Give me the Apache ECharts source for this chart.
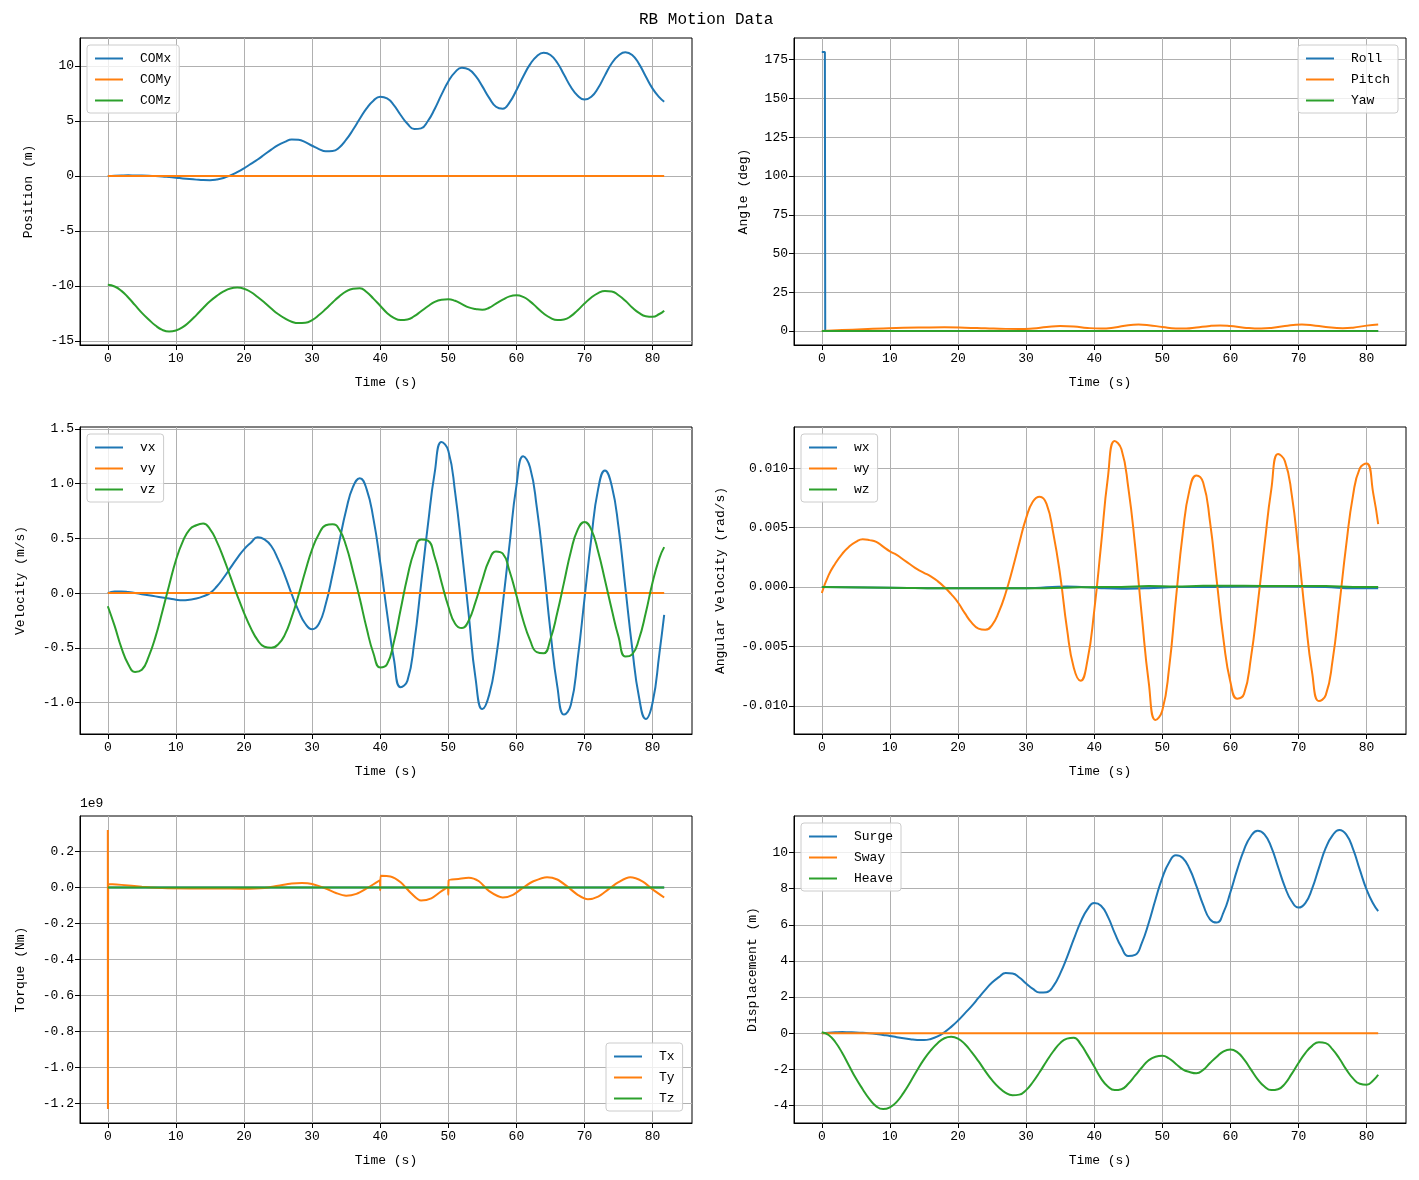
<!DOCTYPE html>
<html lang="en">
<head>
  <meta charset="UTF-8">
  <title>RB Motion Data</title>
  <script src="https://cdn.jsdelivr.net/npm/echarts@6/dist/echarts.min.js"></script>
  <style>
    html, body { margin: 0; padding: 0; background: #fff; }
  </style>
</head>
<body>
<div id="main" style="width:1419px;height:1180px;"></div>
<script>
  // shared time grid (s)
  var tSec = [0, 1, 2, 3, 4, 5, 6, 7, 8, 9,
    10, 11, 12, 13, 14, 15, 16, 17, 18, 19,
    20, 21, 22, 23, 24, 25, 26, 27, 28, 29,
    30, 31, 32, 33, 34, 35, 36, 37, 38, 39,
    40, 41, 42, 43, 44, 45, 46, 47, 48, 49,
    50, 51, 52, 53, 54, 55, 56, 57, 58, 59,
    60, 61, 62, 63, 64, 65, 66, 67, 68, 69,
    70, 71, 72, 73, 74, 75, 76, 77, 78, 79,
    80, 81, 81.7];

  var comX = [0.0, 0.03, 0.05, 0.06, 0.05, 0.04, 0.02, -0.01, -0.05, -0.1,
    -0.15, -0.22, -0.28, -0.33, -0.37, -0.38, -0.32, -0.18, 0.05, 0.35,
    0.7, 1.1, 1.5, 1.95, 2.4, 2.8, 3.1, 3.33, 3.3, 3.08,
    2.75, 2.45, 2.25, 2.27, 2.6, 3.3, 4.2, 5.2, 6.15, 6.85,
    7.2, 7.05, 6.45, 5.55, 4.75, 4.27, 4.33, 5.0, 6.1, 7.4,
    8.6, 9.45, 9.85, 9.7, 9.1, 8.15, 7.1, 6.3, 6.12, 6.7,
    7.8, 9.05, 10.15, 10.9, 11.2, 11.0, 10.3, 9.2, 8.1, 7.3,
    6.95, 7.2, 8.0, 9.15, 10.25, 10.95, 11.25, 11.0, 10.2, 9.05,
    7.95, 7.15, 6.75];

  var comZ = [-9.9, -10.05, -10.45, -11.05, -11.75, -12.45, -13.05, -13.6, -14.0, -14.15,
    -14.05, -13.75, -13.25, -12.65, -12.0, -11.4, -10.9, -10.5, -10.23, -10.15,
    -10.25, -10.55, -11.0, -11.5, -12.05, -12.55, -12.95, -13.25, -13.38, -13.35,
    -13.1, -12.65, -12.1, -11.5, -10.95, -10.5, -10.25, -10.2, -10.55, -11.15,
    -11.8, -12.45, -12.9, -13.1, -13.05, -12.75, -12.3, -11.85, -11.45, -11.25,
    -11.2, -11.35, -11.65, -11.95, -12.1, -12.17, -11.98, -11.6, -11.25, -10.95,
    -10.85, -11.0, -11.4, -11.95, -12.5, -12.9, -13.1, -13.05, -12.75, -12.2,
    -11.6, -11.05, -10.65, -10.45, -10.5, -10.85, -11.35, -11.95, -12.45, -12.75,
    -12.8, -12.55, -12.25];

  var surge = [0.0, 0.03, 0.05, 0.06, 0.05, 0.04, 0.02, -0.01, -0.05, -0.1,
    -0.15, -0.22, -0.28, -0.33, -0.37, -0.38, -0.32, -0.18, 0.05, 0.35,
    0.7, 1.1, 1.5, 1.95, 2.4, 2.8, 3.1, 3.33, 3.3, 3.08,
    2.75, 2.45, 2.25, 2.27, 2.6, 3.3, 4.2, 5.2, 6.15, 6.85,
    7.2, 7.05, 6.45, 5.55, 4.75, 4.27, 4.33, 5.0, 6.1, 7.4,
    8.6, 9.45, 9.85, 9.7, 9.1, 8.15, 7.1, 6.3, 6.12, 6.7,
    7.8, 9.05, 10.15, 10.9, 11.2, 11.0, 10.3, 9.2, 8.1, 7.3,
    6.95, 7.2, 8.0, 9.15, 10.25, 10.95, 11.25, 11.0, 10.2, 9.05,
    7.95, 7.15, 6.75];

  var heave = [0.05, -0.1, -0.5, -1.1, -1.8, -2.5, -3.1, -3.65, -4.05, -4.2,
    -4.1, -3.8, -3.3, -2.7, -2.05, -1.45, -0.95, -0.55, -0.28, -0.2,
    -0.3, -0.6, -1.05, -1.55, -2.1, -2.6, -3.0, -3.3, -3.43, -3.4,
    -3.15, -2.7, -2.15, -1.55, -1.0, -0.55, -0.3, -0.25, -0.6, -1.2,
    -1.85, -2.5, -2.95, -3.15, -3.1, -2.8, -2.35, -1.9, -1.5, -1.3,
    -1.25, -1.4, -1.7, -2.0, -2.15, -2.22, -2.03, -1.65, -1.3, -1.0,
    -0.9, -1.05, -1.45, -2.0, -2.55, -2.95, -3.15, -3.1, -2.8, -2.25,
    -1.65, -1.1, -0.7, -0.5, -0.55, -0.9, -1.4, -2.0, -2.5, -2.8,
    -2.85, -2.6, -2.3];

  var vx = [0.0, 0.015, 0.015, 0.01, 0.0, -0.01, -0.02, -0.03, -0.04, -0.05,
    -0.06, -0.065, -0.06, -0.05, -0.03, 0.0, 0.06, 0.14, 0.23, 0.32,
    0.4, 0.46, 0.51, 0.49, 0.43, 0.31, 0.16, -0.01, -0.16, -0.28,
    -0.33, -0.28, -0.1, 0.17, 0.47, 0.76, 0.97, 1.05, 0.95, 0.68,
    0.28, -0.18, -0.6, -0.86, -0.8, -0.45, 0.08, 0.62, 1.1, 1.38,
    1.3, 0.92, 0.38, -0.2, -0.78, -1.06, -0.93, -0.6, -0.1, 0.45,
    0.98, 1.25, 1.15, 0.78, 0.25, -0.35, -0.85, -1.11, -1.02, -0.6,
    -0.05, 0.5, 0.95, 1.12, 0.98, 0.6, 0.05, -0.5, -0.95, -1.15,
    -1.0, -0.55, -0.2];

  var vz = [-0.12, -0.3, -0.5, -0.65, -0.72, -0.7, -0.58, -0.4, -0.17, 0.07,
    0.3, 0.47, 0.58, 0.62, 0.635, 0.585, 0.47, 0.32, 0.15, -0.02,
    -0.18, -0.32, -0.43, -0.49, -0.5, -0.47, -0.38, -0.22, -0.02, 0.2,
    0.4, 0.54, 0.62, 0.63, 0.58, 0.43, 0.2, -0.05, -0.32, -0.55,
    -0.68, -0.65, -0.45, -0.15, 0.15, 0.38, 0.49, 0.48, 0.33, 0.1,
    -0.12, -0.28, -0.32, -0.25, -0.08, 0.12, 0.3, 0.38, 0.36, 0.2,
    -0.02, -0.25, -0.43, -0.54, -0.55, -0.42, -0.18, 0.1, 0.38, 0.58,
    0.65, 0.58, 0.38, 0.12, -0.15, -0.4, -0.58, -0.56, -0.42, -0.18,
    0.1, 0.32, 0.42];

  var wy = [-0.0005, 0.001, 0.002, 0.0028, 0.0034, 0.0038, 0.00402, 0.00395, 0.0038, 0.0034,
    0.003, 0.0027, 0.0023, 0.0019, 0.0015, 0.0012, 0.0009, 0.0005, 0.0, -0.0006,
    -0.0013, -0.0022, -0.003, -0.0035, -0.0036, -0.0032, -0.0021, -0.0005, 0.0015, 0.0037,
    0.0058, 0.0072, 0.0076, 0.007, 0.0045, 0.001, -0.0035, -0.0068, -0.0079, -0.0062,
    -0.002, 0.0035, 0.0092, 0.0123, 0.0116, 0.0084, 0.0035, -0.0025, -0.008, -0.0112,
    -0.0104, -0.0068, -0.001, 0.0045, 0.0082, 0.0094, 0.0088, 0.0055, 0.0005, -0.0045,
    -0.008, -0.0094, -0.009, -0.006, -0.0015, 0.0035, 0.0082, 0.0112, 0.0106, 0.0078,
    0.003, -0.0025, -0.0072, -0.0096, -0.0091, -0.0062, -0.0015, 0.0035, 0.0077, 0.01,
    0.0104, 0.0078, 0.0053];

  // small angular velocities
  var tW = [0, 10, 20, 30, 36, 41, 44, 48, 52, 56, 62, 68, 74, 78, 81.7];
  var wx = [0, -0.00005, -0.0001, -0.0001, 0.00005, -0.0001, -0.00015, -0.0001, 0, 0, 0.00005, 0.00005, 0, -0.0001, -0.0001];
  var wz = [0, -0.00005, -0.0001, -0.0001, -0.00005, 0, 0, 0.00008, 0.00005, 0.0001, 0.0001, 0.00008, 0.00008, 0, 0];

  // attitude (deg)
  var tRoll = [0, 0.45, 0.5, 81.7];
  var roll = [180, 180, 0, 0];
  var tPitch = [0, 3, 6, 9, 12, 15, 18, 21, 24, 27,
    29, 31, 33, 35, 37, 39, 41, 43, 45, 46.5,
    48, 50, 52, 53.5, 55, 57, 58.5, 60, 62, 64.5,
    66, 68, 70.5, 72, 74, 76.5, 78, 80, 81.7];
  var pitch = [0, 0.6, 1.2, 1.7, 2.1, 2.3, 2.4, 2.2, 1.8, 1.4,
    1.3, 1.7, 2.6, 3.3, 3.0, 2.0, 1.6, 2.3, 3.8, 4.2,
    3.8, 2.6, 1.6, 1.6, 2.3, 3.3, 3.6, 3.2, 2.2, 1.6,
    2.0, 3.3, 4.2, 3.8, 2.6, 1.8, 2.2, 3.5, 4.2];

  // torque, in units of 1e9 Nm
  var tTy = [0, 0.02, 0.05, 2, 5, 8, 12, 16, 20, 23,
    25, 27, 28.5, 30, 32, 33.5, 35, 36.5, 38, 39.5,
    39.95, 40, 40.05, 41.5, 43, 44.5, 46, 47.5, 49, 49.95,
    50, 50.05, 51.5, 53, 54.5, 56, 58, 59.5, 61, 62.5,
    64.5, 66, 67.5, 69, 70.5, 72, 73.5, 75, 76.7, 78.5,
    80, 81.7];
  var ty = [0.32, -1.23, 0.02, 0.015, 0.005, -0.003, -0.005, -0.005, -0.006, -0.002,
    0.01, 0.022, 0.025, 0.02, -0.005, -0.03, -0.045, -0.035, -0.005, 0.03,
    0.04, -0.015, 0.065, 0.062, 0.03, -0.03, -0.072, -0.06, -0.02, 0.0,
    -0.04, 0.04, 0.048, 0.055, 0.035, -0.02, -0.055, -0.04, 0.0, 0.035,
    0.058, 0.045, 0.005, -0.04, -0.065, -0.05, -0.01, 0.03, 0.057, 0.035,
    -0.01, -0.055];

  // flat series
  var tFlat = [0, 81.7];
  var zeros = [0, 0];

  // tick values
  var xTicks = [0, 10, 20, 30, 40, 50, 60, 70, 80];
  var posTicks = [-15, -10, -5, 0, 5, 10];
  var angTicks = [0, 25, 50, 75, 100, 125, 150, 175];
  var velTicks = [-1.0, -0.5, 0, 0.5, 1.0, 1.5];
  var omgTicks = [-0.01, -0.005, 0, 0.005, 0.01];
  var trqTicks = [-1.2, -1.0, -0.8, -0.6, -0.4, -0.2, 0, 0.2];
  var dspTicks = [-4, -2, 0, 2, 4, 6, 8, 10];

  var FONT = 'Liberation Mono';
  var C1 = '#1f77b4', C2 = '#ff7f0e', C3 = '#2ca02c';

  function pair(ts, vs) {
    return ts.map(function (t, i) { return [t, vs[i]]; });
  }

  var panels = [
    {left: 80,  top: 38,  yName: 'Position (m)', gap: 45, min: -15.37, max: 12.55, ticks: posTicks, dec: 0},
    {left: 794, top: 38,  yName: 'Angle (deg)', gap: 44, min: -9, max: 189, ticks: angTicks, dec: 0},
    {left: 80,  top: 427, yName: 'Velocity (m/s)', gap: 53, min: -1.2875, max: 1.5175, ticks: velTicks, dec: 1},
    {left: 794, top: 427, yName: 'Angular Velocity (rad/s)', gap: 67, min: -0.012375, max: 0.013475, ticks: omgTicks, dec: 3},
    {left: 80,  top: 816, yName: 'Torque (Nm)', gap: 53, min: -1.3075, max: 0.3975, ticks: trqTicks, dec: 1},
    {left: 794, top: 816, yName: 'Displacement (m)', gap: 35, min: -4.97, max: 12.02, ticks: dspTicks, dec: 0}
  ];

  var grids = [], xAxes = [], yAxes = [];
  panels.forEach(function (p, i) {
    grids.push({left: p.left, top: p.top, width: 612, height: 307,
      show: true, borderColor: '#000', borderWidth: 1, backgroundColor: 'transparent'});
    xAxes.push({
      type: 'value', gridIndex: i, min: -4.085, max: 85.785,
      name: 'Time (s)', nameLocation: 'middle', nameGap: 31,
      nameTextStyle: {fontFamily: FONT, fontSize: 13, color: '#000'},
      axisLine: {onZero: false, lineStyle: {color: '#000', width: 1}},
      axisTick: {customValues: xTicks, length: 5, lineStyle: {color: '#000'}},
      axisLabel: {customValues: xTicks, color: '#000', fontFamily: FONT, fontSize: 13, margin: 7},
      splitLine: {show: true, lineStyle: {color: '#b0b0b0', width: 1}}
    });
    yAxes.push({
      type: 'value', gridIndex: i, min: p.min, max: p.max,
      name: p.yName, nameLocation: 'middle', nameGap: p.gap, nameRotate: 90,
      nameTextStyle: {fontFamily: FONT, fontSize: 13, color: '#000'},
      axisLine: {show: true, onZero: false, lineStyle: {color: '#000', width: 1}},
      axisTick: {show: true, customValues: p.ticks, length: 5, lineStyle: {color: '#000'}},
      axisLabel: {customValues: p.ticks, color: '#000', fontFamily: FONT, fontSize: 13, margin: 6,
        formatter: (function (d) { return function (v) { return v.toFixed(d); }; })(p.dec)},
      splitLine: {show: true, lineStyle: {color: '#b0b0b0', width: 1}}
    });
  });

  function line(name, idx, data, color, smooth) {
    return {
      name: name, type: 'line', xAxisIndex: idx, yAxisIndex: idx, data: data,
      showSymbol: false, symbol: 'none', smooth: smooth, silent: true,
      lineStyle: {width: 2, color: color}, itemStyle: {color: color}
    };
  }

  var series = [
    line('COMx', 0, pair(tSec, comX), C1, 0.5),
    line('COMy', 0, pair(tFlat, zeros), C2, false),
    line('COMz', 0, pair(tSec, comZ), C3, 0.5),
    line('Roll', 1, pair(tRoll, roll), C1, false),
    line('Pitch', 1, pair(tPitch, pitch), C2, 0.5),
    line('Yaw', 1, pair(tFlat, zeros), C3, false),
    line('vx', 2, pair(tSec, vx), C1, 0.5),
    line('vy', 2, pair(tFlat, zeros), C2, false),
    line('vz', 2, pair(tSec, vz), C3, 0.5),
    line('wx', 3, pair(tW, wx), C1, 0.4),
    line('wy', 3, pair(tSec, wy), C2, 0.5),
    line('wz', 3, pair(tW, wz), C3, 0.4),
    line('Tx', 4, pair(tFlat, zeros), C1, false),
    line('Ty', 4, pair(tTy, ty), C2, 0.3),
    line('Tz', 4, pair(tFlat, zeros), C3, false),
    line('Surge', 5, pair(tSec, surge), C1, 0.5),
    line('Sway', 5, pair(tFlat, zeros), C2, false),
    line('Heave', 5, pair(tSec, heave), C3, 0.5)
  ];

  function legend(names, left, top) {
    return {
      data: names, orient: 'vertical', left: left, top: top,
      icon: 'rect', itemWidth: 28, itemHeight: 2, itemGap: 8,
      padding: [7, 8, 6, 8],
      backgroundColor: 'rgba(255,255,255,0.8)', borderColor: '#cccccc', borderWidth: 1, borderRadius: 3,
      selectedMode: false,
      textStyle: {fontFamily: FONT, fontSize: 13, color: '#000', padding: [0, 0, 0, 12]}
    };
  }

  var myChart = echarts.init(document.getElementById('main'), null, {renderer: 'canvas'});
  var option = {
    animation: false,
    backgroundColor: '#fff',
    title: {text: 'RB Motion Data', left: 634, top: 7,
      textStyle: {fontFamily: FONT, fontSize: 16, fontWeight: 'normal', color: '#000'}},
    grid: grids,
    xAxis: xAxes,
    yAxis: yAxes,
    legend: [
      legend(['COMx', 'COMy', 'COMz'], 87, 45),
      legend(['Roll', 'Pitch', 'Yaw'], 1298, 45),
      legend(['vx', 'vy', 'vz'], 87, 434),
      legend(['wx', 'wy', 'wz'], 801, 434),
      legend(['Tx', 'Ty', 'Tz'], 606, 1043),
      legend(['Surge', 'Sway', 'Heave'], 801, 823)
    ],
    graphic: [
      {type: 'text', left: 80, top: 797,
        style: {text: '1e9', fontFamily: FONT, fontSize: 13, fill: '#000'}}
    ],
    series: series
  };
  myChart.setOption(option);
</script>
</body>
</html>
